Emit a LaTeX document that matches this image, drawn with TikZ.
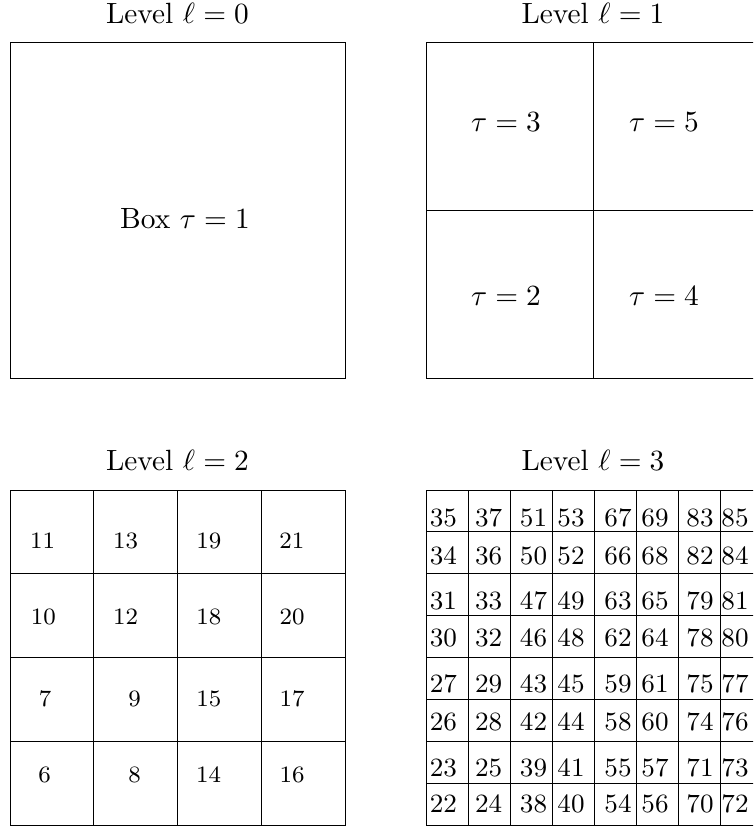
\documentclass[tikz,border=0pt]{standalone}
\begin{document}
\begin{tikzpicture}[x=1pt,y=-1pt,line width=1pt,
  big/.style={font=\normalsize,anchor=base,inner sep=0pt,scale=2.93,transform shape},
  mid/.style={font=\footnotesize,anchor=base,inner sep=0pt,scale=2.93,transform shape},
  small/.style={font=\small,anchor=base,inner sep=0pt,scale=2.93,transform shape}]
\useasboundingbox (0,0) rectangle (753,826);
\clip (0,0) rectangle (753,826);
% Level 0
\node[big] (t0) at (177.5,23.5) {Level $\ell=0$};
\draw (10,43) rectangle (345,378);
\node[big] (b1) at (185,229) {Box $\tau=1$};
% Level 1
\node[big] (t1) at (593,23.5) {Level $\ell=1$};
\draw (426,43) rectangle (760,378);
\draw (593,43) -- (593,378);
\draw (426,210.5) -- (760,210.5);
\node[big] (b3) at (506,131.7) {$\tau=3$};
\node[big] (b5) at (664,131.7) {$\tau=5$};
\node[big] (b2) at (506,305) {$\tau=2$};
\node[big] (b4) at (664,305) {$\tau=4$};
% Level 2
\node[big] (t2) at (177.5,470) {Level $\ell=2$};
\draw (10,490) rectangle (345,825);
\foreach \k in {1,2,3}{
  \draw ({10+83.75*\k},490) -- ({10+83.75*\k},825);
  \draw (10,{490+83.75*\k}) -- (345,{490+83.75*\k});
}
\node[mid] (c11) at (42.5,548.3) {11};
\node[mid] (c13) at (125.5,548.3) {13};
\node[mid] (c19) at (208.8,548.3) {19};
\node[mid] (c21) at (291.8,548.3) {21};
\node[mid] (c10) at (43.3,624.3) {10};
\node[mid] (c12) at (125.5,624.3) {12};
\node[mid] (c18) at (208.8,624.3) {18};
\node[mid] (c20) at (292,624.3) {20};
\node[mid] (c7) at (45,706.7) {7};
\node[mid] (c9) at (134.5,706.7) {9};
\node[mid] (c15) at (208.8,706.7) {15};
\node[mid] (c17) at (292,706.7) {17};
\node[mid] (c6) at (44.5,782.7) {6};
\node[mid] (c8) at (134.5,782.7) {8};
\node[mid] (c14) at (208.5,782.7) {14};
\node[mid] (c16) at (292,782.7) {16};
% Level 3
\node[big] (t3) at (593,470) {Level $\ell=3$};
\draw (426,490) rectangle (762,825);
\foreach \k in {1,...,7}{
  \draw ({426+42*\k},490) -- ({426+42*\k},825);
  \draw (426,{490+41.875*\k}) -- (762,{490+41.875*\k});
}
\foreach \n [count=\i from 0] in {35,37,51,53,67,69,83,85,
  34,36,50,52,66,68,82,84,
  31,33,47,49,63,65,79,81,
  30,32,46,48,62,64,78,80,
  27,29,43,45,59,61,75,77,
  26,28,42,44,58,60,74,76,
  23,25,39,41,55,57,71,73,
  22,24,38,40,54,56,70,72}{
  \pgfmathtruncatemacro{\cc}{mod(\i,8)}
  \pgfmathtruncatemacro{\rr}{int(\i/8)}
  \pgfmathsetmacro{\xx}{{443.3,488.7,533.5,571,618,655,700,735}[\cc]}
  \pgfmathsetmacro{\yy}{{526,564.3,609.3,646.7,692.7,730,776,812.7}[\rr]}
  \node[small] (d\n) at (\xx,\yy) {\n};
}
\end{tikzpicture}
\end{document}
